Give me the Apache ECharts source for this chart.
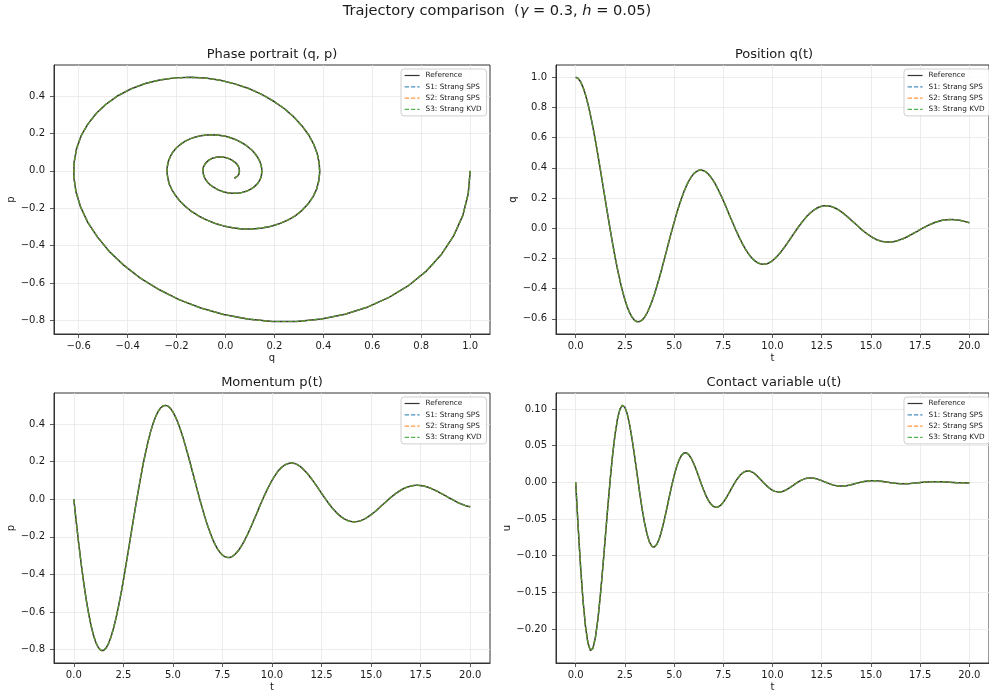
<!DOCTYPE html>
<html>
<head>
<meta charset="utf-8">
<script src="https://cdn.jsdelivr.net/npm/echarts@6/dist/echarts.min.js"></script>
<style>html,body{margin:0;padding:0;background:#fff;}#c{width:989px;height:700px;}</style>
</head>
<body>
<div id="c"></div>
<script>
// ---- data (time grid, trajectories), one row per unit of t ----
const tVals = [0, 0.125, 0.25, 0.375, 0.5, 0.625, 0.75, 0.875,
  1, 1.125, 1.25, 1.375, 1.5, 1.625, 1.75, 1.875,
  2, 2.125, 2.25, 2.375, 2.5, 2.625, 2.75, 2.875,
  3, 3.125, 3.25, 3.375, 3.5, 3.625, 3.75, 3.875,
  4, 4.125, 4.25, 4.375, 4.5, 4.625, 4.75, 4.875,
  5, 5.125, 5.25, 5.375, 5.5, 5.625, 5.75, 5.875,
  6, 6.125, 6.25, 6.375, 6.5, 6.625, 6.75, 6.875,
  7, 7.125, 7.25, 7.375, 7.5, 7.625, 7.75, 7.875,
  8, 8.125, 8.25, 8.375, 8.5, 8.625, 8.75, 8.875,
  9, 9.125, 9.25, 9.375, 9.5, 9.625, 9.75, 9.875,
  10, 10.125, 10.25, 10.375, 10.5, 10.625, 10.75, 10.875,
  11, 11.125, 11.25, 11.375, 11.5, 11.625, 11.75, 11.875,
  12, 12.125, 12.25, 12.375, 12.5, 12.625, 12.75, 12.875,
  13, 13.125, 13.25, 13.375, 13.5, 13.625, 13.75, 13.875,
  14, 14.125, 14.25, 14.375, 14.5, 14.625, 14.75, 14.875,
  15, 15.125, 15.25, 15.375, 15.5, 15.625, 15.75, 15.875,
  16, 16.125, 16.25, 16.375, 16.5, 16.625, 16.75, 16.875,
  17, 17.125, 17.25, 17.375, 17.5, 17.625, 17.75, 17.875,
  18, 18.125, 18.25, 18.375, 18.5, 18.625, 18.75, 18.875,
  19, 19.125, 19.25, 19.375, 19.5, 19.625, 19.75, 19.875,
  20];

const qRef = [1.000, 0.992, 0.970, 0.933, 0.883, 0.822, 0.751, 0.670,
  0.582, 0.489, 0.391, 0.291, 0.191, 0.091, -0.007, -0.101,
  -0.190, -0.272, -0.348, -0.415, -0.474, -0.523, -0.563, -0.592,
  -0.611, -0.620, -0.619, -0.609, -0.590, -0.562, -0.527, -0.485,
  -0.438, -0.385, -0.328, -0.269, -0.207, -0.145, -0.082, -0.021,
  0.038, 0.095, 0.148, 0.197, 0.241, 0.280, 0.313, 0.340,
  0.361, 0.375, 0.383, 0.385, 0.381, 0.372, 0.357, 0.337,
  0.313, 0.285, 0.253, 0.219, 0.183, 0.145, 0.106, 0.067,
  0.029, -0.009, -0.044, -0.078, -0.110, -0.139, -0.164, -0.186,
  -0.204, -0.219, -0.230, -0.236, -0.239, -0.238, -0.234, -0.226,
  -0.215, -0.201, -0.184, -0.166, -0.145, -0.123, -0.100, -0.076,
  -0.052, -0.028, -0.004, 0.018, 0.040, 0.060, 0.079, 0.095,
  0.110, 0.122, 0.132, 0.140, 0.145, 0.148, 0.148, 0.147,
  0.143, 0.137, 0.129, 0.119, 0.108, 0.096, 0.082, 0.068,
  0.053, 0.039, 0.024, 0.009, -0.006, -0.019, -0.032, -0.044,
  -0.055, -0.065, -0.073, -0.080, -0.085, -0.089, -0.091, -0.092,
  -0.092, -0.090, -0.086, -0.082, -0.076, -0.070, -0.063, -0.055,
  -0.046, -0.037, -0.028, -0.019, -0.009, 0.000, 0.008, 0.017,
  0.024, 0.031, 0.038, 0.043, 0.048, 0.052, 0.054, 0.056,
  0.057, 0.057, 0.056, 0.055, 0.052, 0.049, 0.045, 0.041,
  0.036];

const pRef = [0.000, -0.122, -0.238, -0.346, -0.445, -0.534, -0.610, -0.675,
  -0.727, -0.766, -0.792, -0.805, -0.805, -0.792, -0.768, -0.733,
  -0.688, -0.634, -0.573, -0.505, -0.432, -0.354, -0.275, -0.194,
  -0.113, -0.033, 0.044, 0.118, 0.188, 0.251, 0.309, 0.360,
  0.403, 0.439, 0.467, 0.486, 0.497, 0.500, 0.496, 0.484,
  0.465, 0.440, 0.409, 0.372, 0.332, 0.287, 0.240, 0.192,
  0.141, 0.091, 0.041, -0.008, -0.054, -0.099, -0.140, -0.177,
  -0.211, -0.240, -0.264, -0.283, -0.297, -0.306, -0.310, -0.310,
  -0.304, -0.294, -0.280, -0.262, -0.241, -0.217, -0.190, -0.162,
  -0.132, -0.101, -0.070, -0.038, -0.008, 0.022, 0.050, 0.076,
  0.101, 0.122, 0.142, 0.158, 0.171, 0.181, 0.188, 0.192,
  0.193, 0.191, 0.186, 0.178, 0.168, 0.155, 0.141, 0.125,
  0.108, 0.090, 0.071, 0.051, 0.032, 0.013, -0.006, -0.024,
  -0.041, -0.056, -0.071, -0.083, -0.094, -0.103, -0.110, -0.115,
  -0.118, -0.120, -0.119, -0.117, -0.113, -0.107, -0.100, -0.091,
  -0.082, -0.072, -0.061, -0.049, -0.037, -0.025, -0.013, -0.001,
  0.010, 0.021, 0.031, 0.040, 0.048, 0.056, 0.062, 0.067,
  0.070, 0.073, 0.074, 0.074, 0.073, 0.071, 0.068, 0.064,
  0.059, 0.053, 0.047, 0.041, 0.033, 0.026, 0.019, 0.011,
  0.004, -0.003, -0.010, -0.017, -0.023, -0.028, -0.033, -0.037,
  -0.040];

const uRef = [0.0000, -0.0607, -0.1156, -0.1616, -0.1967, -0.2193, -0.2291, -0.2262,
  -0.2117, -0.1872, -0.1549, -0.1172, -0.0767, -0.0359, 0.0026, 0.0370,
  0.0653, 0.0864, 0.0997, 0.1049, 0.1023, 0.0927, 0.0773, 0.0573,
  0.0344, 0.0102, -0.0138, -0.0360, -0.0553, -0.0707, -0.0815, -0.0873,
  -0.0882, -0.0845, -0.0766, -0.0653, -0.0515, -0.0362, -0.0204, -0.0051,
  0.0089, 0.0209, 0.0303, 0.0367, 0.0400, 0.0402, 0.0376, 0.0325,
  0.0255, 0.0171, 0.0079, -0.0015, -0.0104, -0.0184, -0.0250, -0.0299,
  -0.0330, -0.0341, -0.0334, -0.0310, -0.0271, -0.0222, -0.0165, -0.0104,
  -0.0044, 0.0013, 0.0062, 0.0103, 0.0132, 0.0150, 0.0156, 0.0150,
  0.0135, 0.0111, 0.0080, 0.0046, 0.0009, -0.0026, -0.0058, -0.0086,
  -0.0108, -0.0123, -0.0130, -0.0131, -0.0124, -0.0111, -0.0094, -0.0073,
  -0.0050, -0.0027, -0.0004, 0.0016, 0.0034, 0.0047, 0.0056, 0.0060,
  0.0059, 0.0055, 0.0047, 0.0036, 0.0023, 0.0009, -0.0004, -0.0017,
  -0.0029, -0.0038, -0.0045, -0.0049, -0.0051, -0.0049, -0.0045, -0.0039,
  -0.0032, -0.0023, -0.0014, -0.0005, 0.0003, 0.0010, 0.0016, 0.0020,
  0.0023, 0.0023, 0.0022, 0.0020, 0.0016, 0.0011, 0.0006, 0.0001,
  -0.0005, -0.0009, -0.0013, -0.0016, -0.0019, -0.0019, -0.0019, -0.0018,
  -0.0016, -0.0013, -0.0010, -0.0007, -0.0003, 0.0000, 0.0003, 0.0005,
  0.0007, 0.0008, 0.0009, 0.0009, 0.0008, 0.0007, 0.0005, 0.0003,
  0.0001, -0.0001, -0.0003, -0.0005, -0.0006, -0.0007, -0.0007, -0.0008,
  -0.0007];

// the three splitting schemes coincide with the reference at this scale
const seriesNames = ['Reference', 'S1: Strang SPS', 'S2: Strang SPS', 'S3: Strang KVD'];

// tick labels
const ticksQ = [-0.6, -0.4, -0.2, 0.0, 0.2, 0.4, 0.6, 0.8, 1.0];
const ticksP = [-0.8, -0.6, -0.4, -0.2, 0.0, 0.2, 0.4];
const ticksT = [0, 2.5, 5, 7.5, 10, 12.5, 15, 17.5, 20];
const ticksU = [-0.20, -0.15, -0.10, -0.05, 0.00, 0.05, 0.10];

const panelTitles = ['Phase portrait (q, p)', 'Position q(t)', 'Momentum p(t)', 'Contact variable u(t)'];

// ---- styling / layout ----
const FONT = 'DejaVu Sans';
const styles = [
  {color: '#333333', width: 1.5, type: 'solid', opacity: 1},
  {color: '#1f77b4', width: 1.2, type: [4.4, 1.9], opacity: 0.8},
  {color: '#ff7f0e', width: 1.2, type: [4.4, 1.9], opacity: 0.8},
  {color: '#2ca02c', width: 1.2, type: [4.4, 1.9], opacity: 0.8}
];
const grids = [
  {left: 54, top: 65, width: 436, height: 269},
  {left: 556, top: 65, width: 436, height: 269},
  {left: 54, top: 393, width: 436, height: 270},
  {left: 556, top: 393, width: 436, height: 270}
];

function fmt(dec) {
  return function (v) {
    const s = Number(v).toFixed(dec);
    return s.replace('-', '\u2212');
  };
}
function axis(gi, min, max, ticks, dec, name, nameGap, margin) {
  return {
    type: 'value', gridIndex: gi, min: min, max: max,
    name: name, nameLocation: 'middle', nameGap: nameGap,
    nameTextStyle: {fontFamily: FONT, fontSize: 10, color: '#1a1a1a'},
    axisLine: {show: true, onZero: false, lineStyle: {color: '#333', width: 1}},
    axisTick: {show: true, length: 4, customValues: ticks, lineStyle: {color: '#333', width: 0.8}},
    axisLabel: {show: true, customValues: ticks, formatter: fmt(dec), fontFamily: FONT, fontSize: 10, color: '#1a1a1a', margin: margin},
    splitLine: {show: true, lineStyle: {color: '#e7e7e7', width: 0.8}}
  };
}

const xAxes = [
  axis(0, -0.701, 1.081, ticksQ, 1, 'q', 19, 7),
  axis(1, -1, 21, ticksT, 1, 't', 19, 7),
  axis(2, -1, 21, ticksT, 1, 't', 19, 7),
  axis(3, -1, 21, ticksT, 1, 't', 19, 7)
];
const yAxes = [
  axis(0, -0.8717, 0.5658, ticksP, 1, 'p', 36, 9),
  axis(1, -0.701, 1.081, ticksQ, 1, 'q', 36, 9),
  axis(2, -0.8717, 0.5658, ticksP, 1, 'p', 36, 9),
  axis(3, -0.2461, 0.1217, ticksU, 2, 'u', 44, 9)
];

function pairs(xs, ys) { return xs.map((x, i) => [x, ys[i]]); }
const panelData = [
  pairs(qRef, pRef),
  pairs(tVals, qRef),
  pairs(tVals, pRef),
  pairs(tVals, uRef)
];

const series = [];
for (let g = 0; g < 4; g++) {
  for (let s = 0; s < 4; s++) {
    series.push({
      type: 'line', name: seriesNames[s], xAxisIndex: g, yAxisIndex: g,
      data: panelData[g], symbol: 'none', showSymbol: false, smooth: false,
      z: 2 + s, silent: true, animation: false,
      itemStyle: {color: styles[s].color},
      lineStyle: {color: styles[s].color, width: styles[s].width, type: styles[s].type, opacity: styles[s].opacity}
    });
  }
}

const legendPos = [{left: 401, top: 69}, {left: 904, top: 69}, {left: 401, top: 397}, {left: 904, top: 397}];
const legends = legendPos.map(p => ({
  orient: 'vertical', left: p.left, top: p.top, data: seriesNames,
  itemWidth: 15, itemHeight: 8, itemGap: 4.3, padding: [3, 5, 3, 3],
  backgroundColor: 'rgba(255,255,255,0.85)', borderColor: '#d0d0d0', borderWidth: 1, borderRadius: 3,
  selectedMode: false,
  itemStyle: {opacity: 0, borderWidth: 0},
  lineStyle: {width: 1.2},
  textStyle: {fontFamily: FONT, fontSize: 7.3, color: '#222', padding: [0, 0, 0, 1]}
}));

const titleCenters = [[272, 55], [774, 55], [272, 383], [774, 383]];
const graphics = [{
  type: 'text', x: 497, y: 11,
  style: {
    text: '{n|Trajectory comparison  (}{i|γ}{n| = 0.3, }{i|h}{n| = 0.05)}',
    textAlign: 'center', textVerticalAlign: 'middle',
    rich: {
      n: {fontFamily: FONT, fontSize: 14.6, fill: '#1a1a1a'},
      i: {fontFamily: FONT, fontSize: 14.6, fontStyle: 'italic', fill: '#1a1a1a'}
    }
  }
}].concat(panelTitles.map((t, i) => ({
  type: 'text', x: titleCenters[i][0], y: titleCenters[i][1],
  style: {text: t, font: '13px "DejaVu Sans"', fill: '#1a1a1a', textAlign: 'center', textVerticalAlign: 'middle'}
})));

const chart = echarts.init(document.getElementById('c'), null, {renderer: 'canvas'});
chart.setOption({
  backgroundColor: '#ffffff',
  animation: false,
  grid: grids.map(g => Object.assign({show: true, borderColor: '#333', borderWidth: 1, backgroundColor: 'transparent', containLabel: false}, g)),
  xAxis: xAxes,
  yAxis: yAxes,
  legend: legends,
  series: series,
  graphic: graphics
});
</script>
</body>
</html>
